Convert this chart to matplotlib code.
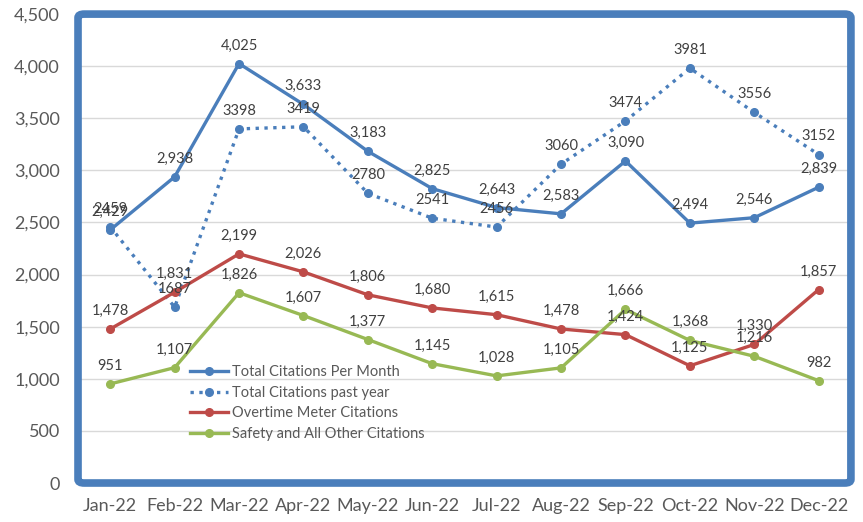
import matplotlib.pyplot as plt
from matplotlib.patches import FancyBboxPatch

# Monthly citation counts
months = ['Jan-22', 'Feb-22', 'Mar-22', 'Apr-22', 'May-22', 'Jun-22',
          'Jul-22', 'Aug-22', 'Sep-22', 'Oct-22', 'Nov-22', 'Dec-22']
total_month = [2429, 2938, 4025, 3633, 3183, 2825, 2643, 2583, 3090, 2494, 2546, 2839]
total_past = [2459, 1687, 3398, 3419, 2780, 2541, 2456, 3060, 3474, 3981, 3556, 3152]
overtime = [1478, 1831, 2199, 2026, 1806, 1680, 1615, 1478, 1424, 1125, 1330, 1857]
safety = [951, 1107, 1826, 1607, 1377, 1145, 1028, 1105, 1666, 1368, 1216, 982]

plt.rcParams['font.family'] = ['Lato', 'DejaVu Sans']

fig = plt.figure(figsize=(8.63, 5.22), dpi=100)
ax = fig.add_axes([0.0904, 0.0747, 0.8956, 0.8983])

x = list(range(len(months)))
blue = '#4A7EBB'
red = '#BE4B48'
green = '#98B954'

ax.plot(x, total_month, color=blue, lw=2.4, marker='o', ms=5.5, label='Total Citations Per Month', zorder=4)
ax.plot(x, total_past, color=blue, lw=2.4, ls=':', marker='o', ms=5.5, label='Total Citations past year', zorder=4)
ax.plot(x, overtime, color=red, lw=2.4, marker='o', ms=5.5, label='Overtime Meter Citations', zorder=4)
ax.plot(x, safety, color=green, lw=2.4, marker='o', ms=5.5, label='Safety and All Other Citations', zorder=4)

# data labels: per-month series with thousands separator, past year without
for series, fmt in [(total_month, '{:,}'), (total_past, '{}'), (overtime, '{:,}'), (safety, '{:,}')]:
    for xi, v in zip(x, series):
        ax.annotate(fmt.format(v), (xi, v), xytext=(0, 8), textcoords='offset points',
                    ha='center', va='bottom', fontsize=10.5, color='#404040', zorder=5)

ax.set_xlim(-0.5, 11.5)
ax.set_ylim(0, 4500)
ax.set_yticks(range(0, 4501, 500))
ax.set_yticklabels(['{:,}'.format(v) for v in range(0, 4501, 500)])
ax.set_xticks(x)
ax.set_xticklabels(months)
ax.tick_params(axis='both', length=0, labelsize=13, colors='#595959')
ax.tick_params(axis='y', pad=13)
ax.tick_params(axis='x', pad=11)
ax.grid(axis='y', color='#D9D9D9', lw=1)
ax.set_axisbelow(True)
for s in ax.spines.values():
    s.set_visible(False)

# thick rounded border around the plot area
border = FancyBboxPatch((0, 0), 1, 1, boxstyle='round,pad=0,rounding_size=0.008',
                        transform=ax.transAxes, fill=False, ec=blue, lw=5.5,
                        clip_on=False, zorder=3)
ax.add_patch(border)

leg = ax.legend(loc='upper left', bbox_to_anchor=(0.145, 0.251), frameon=False,
                fontsize=10.5, handlelength=2.6, handletextpad=0.3, labelspacing=0.45,
                borderaxespad=0, borderpad=0)
for t in leg.get_texts():
    t.set_color('#595959')

plt.savefig('out.png', dpi=100)
